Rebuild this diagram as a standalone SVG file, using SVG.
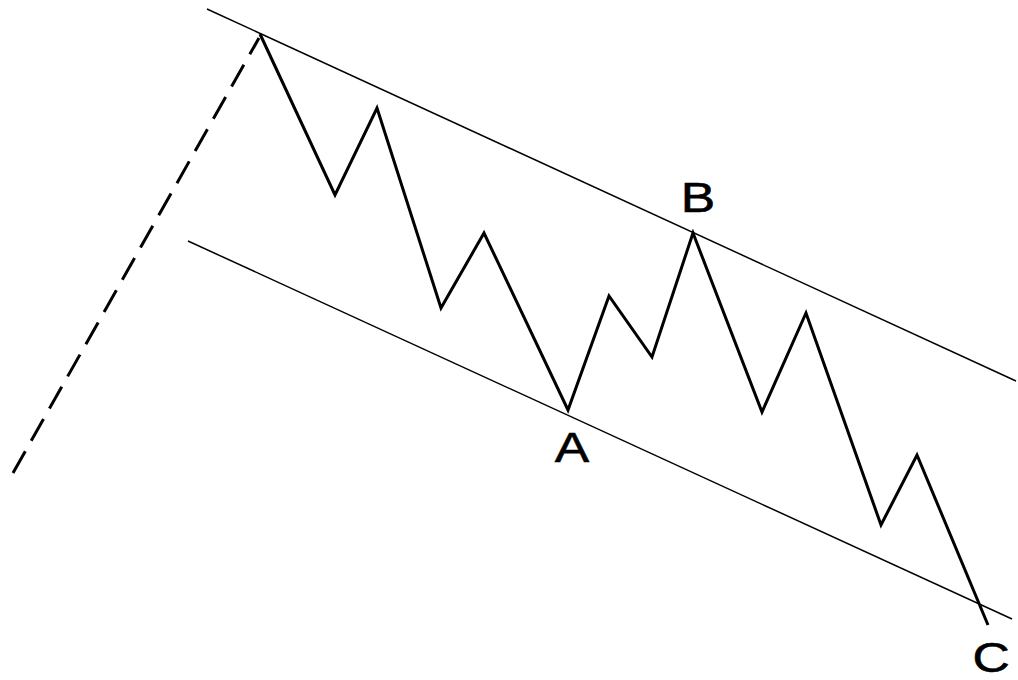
<svg xmlns="http://www.w3.org/2000/svg" width="1018" height="680" viewBox="0 0 1018 680">
<style>
.chan{stroke:#000;stroke-width:1.5;fill:none}
.wave{stroke:#000;stroke-width:3;fill:none;stroke-linejoin:miter;stroke-miterlimit:10}
.dash{stroke:#000;stroke-width:3;fill:none;stroke-dasharray:25 12}
.lbl{font-family:"Liberation Sans",Arial,sans-serif;font-size:43px;fill:#000;stroke:#000;stroke-width:0.6;text-anchor:middle}
</style>
<rect width="1018" height="680" fill="#fff"/>
<g id="connectors">
<line class="chan" x1="207" y1="9" x2="1016" y2="381"/>
<line class="chan" x1="188" y1="241" x2="1012" y2="619"/>
<line class="dash" x1="13" y1="473" x2="259" y2="38"/>
<polyline class="wave" points="260,34 335,195 377,108 441,308 484,233 568,410 609,296 652,357 693,233 762,412 806,313 881,525 917,455 988,625"/>
</g>
<g id="label-B"><text class="lbl" transform="translate(698,212) scale(1.2,1)" x="0" y="0">B</text></g>
<g id="label-A"><text class="lbl" transform="translate(572,462) scale(1.2,1)" x="0" y="0">A</text></g>
<g id="label-C"><text class="lbl" transform="translate(991,672) scale(1.2,1)" x="0" y="0">C</text></g>
</svg>
